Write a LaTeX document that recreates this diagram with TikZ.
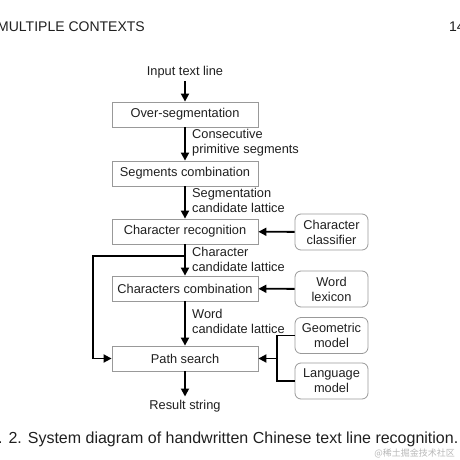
\documentclass[tikz,border=0pt]{standalone}
\usepackage{fontspec}
\setmainfont{Liberation Sans}
\newfontfamily\cjkfont{Noto Sans CJK SC}
\usetikzlibrary{arrows.meta}

\begin{document}
\begin{tikzpicture}[x=1pt,y=-1pt,
        font=\fontsize{12.8}{15}\selectfont,text=black!88,
        stage/.style={draw=black!40,line width=0.8pt,minimum width=146pt,minimum height=25pt,inner sep=0pt},
        model/.style={draw=black!40,line width=0.8pt,rounded corners=6pt,minimum width=73pt,minimum height=36pt,align=center,inner sep=0pt},
        note/.style={align=left,anchor=west,inner sep=0pt},
        flow/.style={line width=1.8pt,-{Triangle[length=8pt,width=8pt]}},
        wire/.style={line width=1.8pt}]
    \useasboundingbox (0,0) rectangle (460,460);

    % page header and caption
    \node[anchor=base west,inner sep=0pt,font=\fontsize{14}{16}\selectfont] (head) at (-3,32) {MULTIPLE CONTEXTS};
    \node[anchor=base west,inner sep=0pt,font=\fontsize{14}{16}\selectfont] (page) at (449,32) {14};
    \node[anchor=base east,inner sep=0pt,font=\fontsize{16}{18}\selectfont] (caption) at (458.5,443) {Fig. 2. System diagram of handwritten Chinese text line recognition.};
    \node[anchor=base east,inner sep=0pt,text=black!28,font=\cjkfont\fontsize{9}{11}\selectfont] (mark) at (455,456) {@稀土掘金技术社区};

    % main chain
    \node (input) at (185,72) {Input text line};
    \node[stage] (over) at (185,114.5) {Over-segmentation};
    \node[stage] (seg) at (185,173.5) {Segments combination};
    \node[stage] (rec) at (185,231.5) {Character recognition};
    \node[stage] (comb) at (185,288.5) {Characters combination};
    \node[stage] (path) at (185,358.5) {Path search};
    \node (result) at (185,406) {Result string};

    % knowledge sources
    \node[model] (classifier) at (331.5,232) {Character\\classifier};
    \node[model] (lexicon) at (331.5,289) {Word\\lexicon};
    \node[model] (geo) at (331.5,335.5) {Geometric\\model};
    \node[model] (lang) at (331.5,381) {Language\\model};

    % labels of the intermediate results
    \node[note] (l1) at (192,142.5) {Consecutive\\primitive segments};
    \node[note] (l2) at (192,200.5) {Segmentation\\candidate lattice};
    \node[note] (l3) at (192,259.5) {Character\\candidate lattice};
    \node[note] (l4) at (192,321) {Word\\candidate lattice};

    \draw[flow] (input) -- (over);
    \draw[flow] (over) -- (seg);
    \draw[flow] (seg) -- (rec);
    \draw[flow] (rec) -- (comb);
    \draw[flow] (comb) -- (path);
    \draw[flow] (path) -- (result);

    \draw[flow] (classifier) -- (rec);
    \draw[flow] (lexicon) -- (comb);

    % bypass from the character lattice
    \coordinate (fb) at (185,256);
    \coordinate (loop) at (93,256);
    \draw[flow] (fb) -- (loop) |- (path.west);

    % the two models join
    \coordinate (join) at (277,358.5);
    \draw[wire] (geo.west) -| (join) |- (lang.west);
    \draw[flow] (join) -- (path.east);
\end{tikzpicture}
\end{document}
